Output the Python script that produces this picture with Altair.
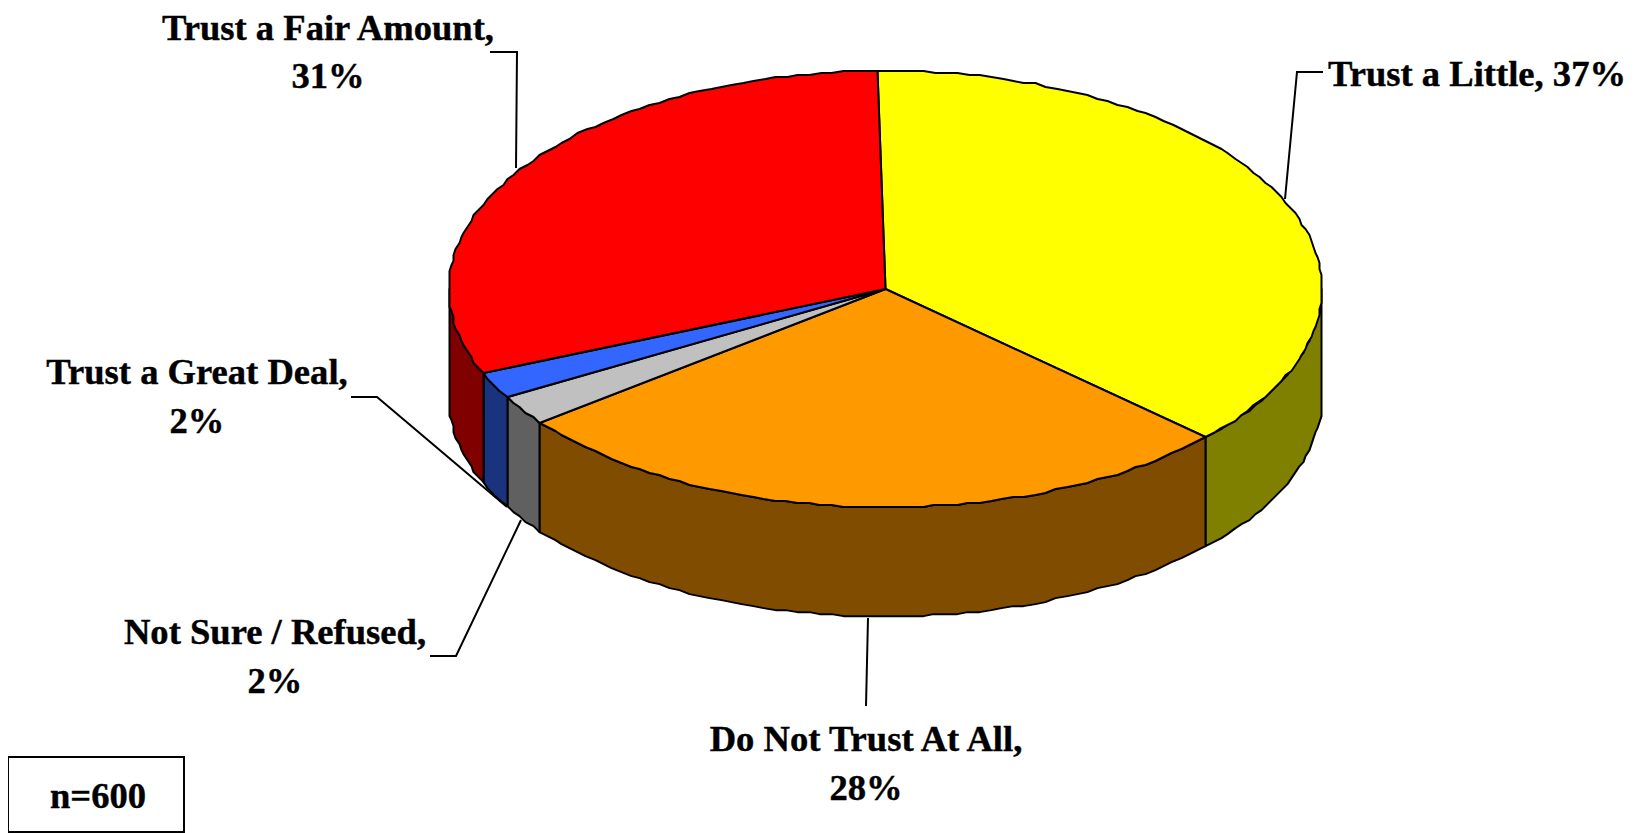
import math
import altair as alt

# Slice values, clockwise from the top of the pie
categories = ["Trust a Little", "Do Not Trust At All", "Not Sure / Refused", "Trust a Great Deal", "Trust a Fair Amount"]
values = [37.2, 27.6, 2.2, 2.0, 31.0]
shown = [37, 28, 2, 2, 31]
top_colors = ["#FFFF00", "#FF9900", "#C0C0C0", "#3366FF", "#FF0000"]
side_colors = ["#808000", "#804C00", "#606060", "#1A337F", "#800000"]

START = -1.0
TILT = 0.5
DEPTH = 0.25
W, H = 1621, 825
RX, CX, CY = 436.5, 877.5, 281
GRID = 2.0 / RX  # the reference's outline is stepped, as if drawn on a coarse grid


def snap(v):
    return round(v / GRID) * GRID


def pt(a, dz=0.0):
    r = math.radians(a)
    return [snap(math.sin(r)), snap(-math.cos(r) * TILT) + dz]


def arc(a, b, dz=0.0):
    n = max(2, int(abs(b - a) / 1.5) + 1)
    return [pt(a + (b - a) * i / (n - 1), dz) for i in range(n)]


def feature(ring, fill):
    return {"type": "Feature", "properties": {"fill": fill},
            "geometry": {"type": "Polygon", "coordinates": [ring + [ring[0]]]}}


walls, tops = [], []
a = START
for v, tc, sc in zip(values, top_colors, side_colors):
    b = a + v * 3.6
    lo, hi = max(a, 90), min(b, 270)
    if lo < hi:
        walls.append(feature(arc(lo, hi) + arc(hi, lo, DEPTH), sc))
    tops.append(feature([[0.0, 0.0]] + arc(a, b), tc))
    a = b

pie = (
    alt.Chart(alt.InlineData(values=walls + tops, format=alt.DataFormat(type="json")))
    .mark_geoshape(stroke="black", strokeWidth=2, strokeJoin="round")
    .encode(fill=alt.Fill("properties.fill:N", scale=None))
)

# Label text, one row per printed line
label_rows = [
    {"t": "Trust a Little, 37%", "x": 1320, "y": 78, "al": "left"},
    {"t": "Trust a Fair Amount,", "x": 320, "y": 32, "al": "center"},
    {"t": "31%", "x": 320, "y": 80, "al": "center"},
    {"t": "Trust a Great Deal,", "x": 189, "y": 376, "al": "center"},
    {"t": "2%", "x": 189, "y": 425, "al": "center"},
    {"t": "Not Sure / Refused,", "x": 267, "y": 636, "al": "center"},
    {"t": "2%", "x": 267, "y": 685, "al": "center"},
    {"t": "Do Not Trust At All,", "x": 858, "y": 743, "al": "center"},
    {"t": "28%", "x": 858, "y": 792, "al": "center"},
    {"t": "n=600", "x": 90, "y": 800, "al": "center"},
]


def text_layer(al):
    return (
        alt.Chart(alt.Data(values=[r for r in label_rows if r["al"] == al]))
        .mark_text(font="Liberation Serif", fontWeight="bold", fontSize=36.6, align=al,
                   baseline="alphabetic", color="black", stroke="black", strokeWidth=0.4)
        .encode(x=alt.X("x:Q", scale=None, axis=None), y=alt.Y("y:Q", scale=None, axis=None), text="t:N")
    )


leaders = {
    "little": [(1315, 64), (1289, 64), (1277, 191)],
    "fair": [(482, 44), (509, 44), (508, 160)],
    "great": [(343, 389), (369, 389), (499, 499)],
    "sure": [(422, 648), (448, 648), (513, 512)],
    "none": [(858, 698), (860, 610)],
}
leader_rows = [{"k": k, "i": i, "x": p[0], "y": p[1]} for k, pts in leaders.items() for i, p in enumerate(pts)]
leader_layer = (
    alt.Chart(alt.Data(values=leader_rows))
    .mark_line(color="black", strokeWidth=2, interpolate="linear")
    .encode(x=alt.X("x:Q", scale=None, axis=None), y=alt.Y("y:Q", scale=None, axis=None),
            detail="k:N", order="i:Q")
)

box_layer = (
    alt.Chart(alt.Data(values=[{"x": 0, "x2": 176, "y": 749, "y2": 824}]))
    .mark_rect(fill="white", stroke="black", strokeWidth=2)
    .encode(x=alt.X("x:Q", scale=None, axis=None), x2="x2:Q",
            y=alt.Y("y:Q", scale=None, axis=None), y2="y2:Q")
)

chart = (
    alt.layer(pie, leader_layer, box_layer, text_layer("left"), text_layer("center"))
    .project(type="identity", scale=RX, translate=[CX, CY])
    .properties(width=W, height=H, padding=0, autosize=alt.AutoSizeParams(type="none"), background="white")
    .configure_view(stroke=None)
)
chart.save("out.html", embed_options={"renderer": "svg", "actions": False})
